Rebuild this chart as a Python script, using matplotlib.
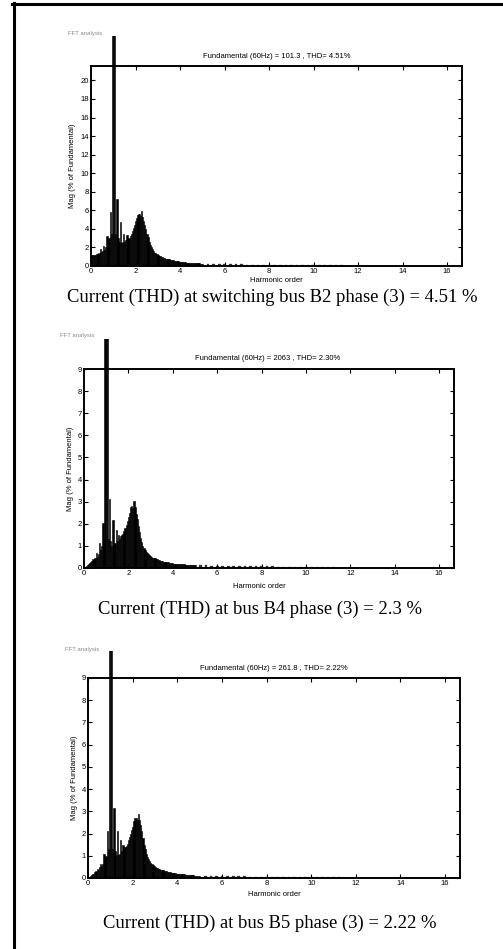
import numpy as np
import matplotlib
matplotlib.use("Agg")
import matplotlib.pyplot as plt
from matplotlib.lines import Line2D
from matplotlib.transforms import Bbox, TransformedBbox

plt.rcParams['font.family'] = ['Liberation Sans', 'DejaVu Sans']

W, H = 503, 949

# harmonic order axis: fine bins up to 5, coarser tail after that
orders_main = np.round(np.arange(0, 5.0001, 0.05), 2)
orders_tail = np.round(np.arange(5.25, 11.2501, 0.25), 2)

# bus B2 (switching bus)
b2_main = [1.2, 1.15, 1.15, 1.2, 1.2, 1.3, 1.3, 1.4, 1.8, 1.5,
           1.6, 2.2, 1.7, 2.0, 3.2, 2.3, 3.0, 5.8, 3.5, 45.0,
           100.0,
           45.0, 3.5, 7.2, 3.0, 2.6, 4.7, 2.5, 2.6, 3.4, 2.6,
           2.8, 3.3, 2.9, 3.0, 3.2, 3.5, 3.8, 4.1, 4.4, 4.8,
           5.2, 5.5, 5.6, 5.4, 5.9, 5.3, 4.9, 4.4, 4.0, 3.5,
           3.1, 2.6, 2.3, 2.0, 1.8, 1.6, 1.45, 1.35, 1.25, 1.15,
           1.1, 1.05, 1.0, 0.95, 0.9, 0.85, 0.8, 0.78, 0.75, 0.72,
           0.68, 0.65, 0.62, 0.6, 0.57, 0.55, 0.52, 0.5, 0.48, 0.46,
           0.44, 0.42, 0.41, 0.40, 0.38, 0.37, 0.36, 0.35, 0.34, 0.33,
           0.32, 0.31, 0.30, 0.29, 0.28, 0.28, 0.27, 0.26, 0.25, 0.25]
b2_tail = [0.24, 0.22, 0.21, 0.2, 0.19, 0.18, 0.17, 0.16, 0.15, 0.15,
           0.14, 0.13, 0.13, 0.12, 0.12, 0.11, 0.11, 0.1, 0.1, 0.1,
           0.09, 0.09, 0.09, 0.08, 0.08]

# bus B4
b4_main = [0.02, 0.05, 0.08, 0.12, 0.15, 0.2, 0.25, 0.3, 0.4, 0.35,
           0.45, 0.65, 0.5, 0.6, 1.1, 0.8, 1.0, 2.05, 1.3, 40.0,
           100.0,
           40.0, 1.3, 3.1, 1.2, 1.0, 2.15, 1.0, 1.1, 1.7, 1.2,
           1.5, 1.3, 1.45, 1.5, 1.55, 1.65, 1.8, 1.95, 2.1, 2.3,
           2.5, 2.75, 2.8, 2.7, 3.03, 2.75, 2.45, 2.2, 1.9, 1.6,
           1.35, 1.15, 0.98, 0.88, 0.8, 0.72, 0.66, 0.6, 0.56, 0.52,
           0.48, 0.46, 0.44, 0.42, 0.4, 0.38, 0.36, 0.34, 0.32, 0.31,
           0.3, 0.28, 0.27, 0.26, 0.25, 0.24, 0.23, 0.22, 0.21, 0.2,
           0.19, 0.19, 0.18, 0.18, 0.17, 0.17, 0.16, 0.16, 0.15, 0.15,
           0.14, 0.14, 0.13, 0.13, 0.12, 0.12, 0.12, 0.11, 0.11, 0.11]
b4_tail = [0.1, 0.1, 0.09, 0.09, 0.08, 0.08, 0.08, 0.07, 0.07, 0.07,
           0.06, 0.06, 0.06, 0.06, 0.05, 0.05, 0.05, 0.05, 0.05, 0.04,
           0.04, 0.04, 0.04, 0.04, 0.04]

# bus B5
b5_main = [0.02, 0.05, 0.08, 0.12, 0.16, 0.2, 0.26, 0.32, 0.42, 0.38,
           0.48, 0.65, 0.55, 0.62, 1.1, 0.85, 1.0, 2.1, 1.3, 40.0,
           100.0,
           40.0, 1.3, 3.13, 1.2, 1.05, 2.1, 1.05, 1.1, 1.7, 1.2,
           1.5, 1.3, 1.4, 1.45, 1.55, 1.7, 1.85, 2.0, 2.15, 2.3,
           2.55, 2.7, 2.7, 2.6, 2.9, 2.6, 2.4, 2.1, 1.8, 1.5,
           1.3, 1.1, 0.95, 0.85, 0.75, 0.68, 0.62, 0.58, 0.54, 0.5,
           0.47, 0.44, 0.42, 0.4, 0.38, 0.36, 0.34, 0.32, 0.31, 0.3,
           0.28, 0.27, 0.26, 0.25, 0.24, 0.23, 0.22, 0.21, 0.2, 0.19,
           0.18, 0.18, 0.17, 0.17, 0.16, 0.16, 0.15, 0.15, 0.14, 0.14,
           0.13, 0.13, 0.12, 0.12, 0.11, 0.11, 0.11, 0.1, 0.1, 0.1]
b5_tail = [0.09, 0.09, 0.08, 0.08, 0.08, 0.07, 0.07, 0.07, 0.06, 0.06,
           0.06, 0.06, 0.05, 0.05, 0.05, 0.05, 0.05, 0.04, 0.04, 0.04,
           0.04, 0.04, 0.04, 0.03, 0.03]

titles = ["Fundamental (60Hz) = 101.3 , THD= 4.51%",
          "Fundamental (60Hz) = 2063 , THD= 2.30%",
          "Fundamental (60Hz) = 261.8 , THD= 2.22%"]
captions = ["Current (THD) at switching bus B2 phase (3) = 4.51 %",
            "Current (THD) at bus B4 phase (3) = 2.3 %",
            "Current (THD) at bus B5 phase (3) = 2.22 %"]
y_max = [21.55, 9, 9]
y_ticks = [np.arange(0, 21, 2), np.arange(0, 10, 1)]
x_max = 16.67

# layout in pixels: axes box (left, right, top, bottom), bar clip top,
# title, xlabel, ylabel, "FFT analysis" and caption anchors
layout = [
    dict(box=(91.3, 462, 66, 266), clip=36, title=(276.5, 57), xl=(276, 280),
         yl=(72, 166), fft=(68, 34), cap=(272, 297)),
    dict(box=(84, 454, 369.3, 567.7), clip=339, title=(268, 359), xl=(259, 586),
         yl=(71, 469), fft=(60, 336), cap=(260, 609)),
    dict(box=(88.3, 460, 678, 878), clip=651, title=(274, 669), xl=(274, 894),
         yl=(75, 778), fft=(65, 649), cap=(270, 923)),
]

series = [(b2_main, b2_tail), (b4_main, b4_tail), (b5_main, b5_tail)]

fig = plt.figure(figsize=(W / 100, H / 100), dpi=100)


def fx(px):
    return px / W


def fy(py):
    return 1 - py / H


for k, lay in enumerate(layout):
    l, r, t, b = lay["box"]
    ax = fig.add_axes([fx(l), fy(b), fx(r) - fx(l), fy(t) - fy(b)])
    main, tail = series[k]

    clip = TransformedBbox(Bbox([[fx(l), fy(b)], [fx(r), fy(lay["clip"])]]),
                           fig.transFigure)
    bars1 = ax.bar(orders_main, main, width=0.06, color="black",
                   edgecolor="black", linewidth=0.4, align="center")
    bars2 = ax.bar(orders_tail, tail, width=0.12, color="#333333",
                   edgecolor="#333333", linewidth=0.2, align="center")
    for p in list(bars1) + list(bars2):
        p.set_clip_on(True)
        p.set_clip_box(clip)

    ax.set_xlim(0, x_max)
    ax.set_ylim(0, y_max[k])
    ax.set_xticks(np.arange(0, 17, 2))
    ax.set_yticks(y_ticks[0] if k == 0 else y_ticks[1])
    ax.tick_params(direction="in", top=True, right=True, length=3,
                   width=0.8, labelsize=5.5, pad=1.5)
    for s in ax.spines.values():
        s.set_linewidth(1.4)

    fig.text(fx(lay["title"][0]), fy(lay["title"][1]), titles[k],
             ha="center", va="center", fontsize=5.5)
    fig.text(fx(lay["xl"][0]), fy(lay["xl"][1]), "Harmonic order",
             ha="center", va="center", fontsize=5.5)
    fig.text(fx(lay["yl"][0]), fy(lay["yl"][1]), "Mag (% of Fundamental)",
             ha="center", va="center", fontsize=5.5, rotation=90)
    fig.text(fx(lay["fft"][0]), fy(lay["fft"][1]), "FFT analysis",
             ha="left", va="center", fontsize=4.3, color="#888888")
    fig.text(fx(lay["cap"][0]), fy(lay["cap"][1]), captions[k],
             ha="center", va="center", fontsize=13.4,
             family=["Liberation Serif", "DejaVu Serif"])

# page frame (top and left edges only)
fig.add_artist(Line2D([fx(12), fx(W)], [fy(4), fy(4)], color="black",
                      linewidth=2.2, transform=fig.transFigure))
fig.add_artist(Line2D([fx(14), fx(14)], [fy(3), fy(H)], color="black",
                      linewidth=2.2, transform=fig.transFigure))

fig.savefig("out.png", dpi=100)
